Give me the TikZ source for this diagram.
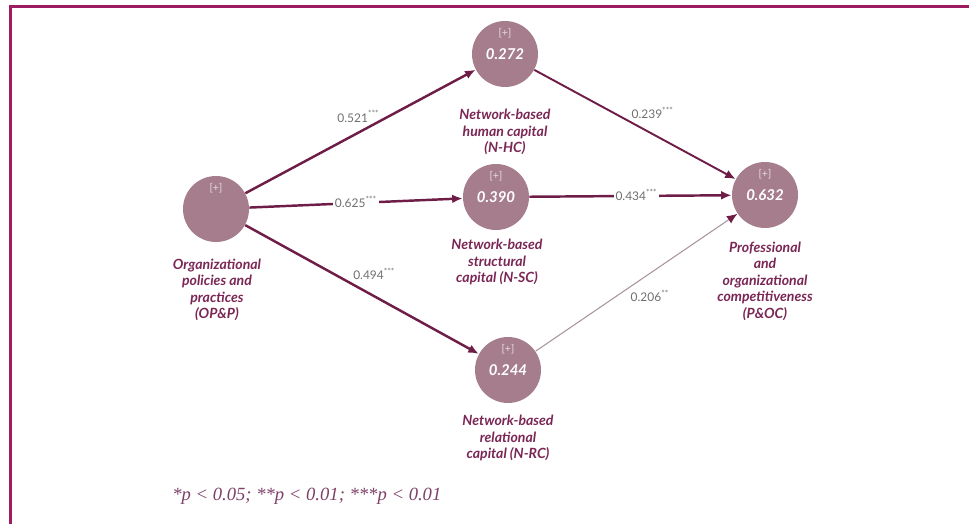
\documentclass[tikz,border=0pt]{standalone}
\usepackage{fontspec}
\setmainfont{Lato}
\newfontfamily\notefont{Liberation Serif}
\usetikzlibrary{arrows.meta}
\definecolor{framecol}{HTML}{9E1D62}
\definecolor{lvfill}{HTML}{A67D8C}
\definecolor{pathcol}{HTML}{6E1D47}
\definecolor{weakcol}{HTML}{A8939C}
\definecolor{labcol}{HTML}{7B2755}
\definecolor{coefcol}{HTML}{6F6F6F}
\definecolor{notecol}{HTML}{7D4068}
\definecolor{pluscol}{HTML}{E8DCE1}

\begin{document}
\begin{tikzpicture}[
    lv/.style={circle,fill=lvfill,minimum size=1.32cm,inner sep=0pt},
    plus/.style={text=pluscol,font=\fontsize{6}{7}\selectfont},
    val/.style={text=white,font=\fontsize{8.5}{10}\selectfont\bfseries\itshape},
    lab/.style={align=center,text=labcol,font=\fontsize{8}{9.4}\selectfont\bfseries\itshape},
    coef/.style={text=coefcol,font=\fontsize{6.8}{7.8}\selectfont,inner sep=1pt},
    arr/.style={draw=pathcol,line width=1.4pt,-{Latex[length=6pt,width=5pt,color=pathcol]}},
  ]
    \useasboundingbox (0,0) rectangle (19.38,10.48);

    % Frame
    \draw[framecol,line width=1.5pt] (0.206,0) -- (0.206,10.354) -- (19.38,10.354);

    % Organizational policies and practices
    \node[lv] (OPP) at (4.32,6.30) {};
    \node[plus] (OPPp) at (4.32,6.72) {[+]};
    \node[lab] (OPPl) at (4.34,4.68) {Organizational\\policies and\\practices\\(OP\&P)};

    % Network-based human capital
    \node[lv] (NHC) at (10.10,9.40) {};
    \node[plus] (NHCp) at (10.10,9.82) {[+]};
    \node[val] (NHCv) at (10.10,9.40) {0.272};
    \node[lab] (NHCl) at (10.10,7.84) {Network-based\\human capital\\(N-HC)};

    % Network-based structural capital
    \node[lv] (NSC) at (9.92,6.54) {};
    \node[plus] (NSCp) at (9.92,6.96) {[+]};
    \node[val] (NSCv) at (9.92,6.54) {0.390};
    \node[lab] (NSCl) at (9.94,5.24) {Network-based\\structural\\capital (N-SC)};

    % Network-based relational capital
    \node[lv] (NRC) at (10.16,3.08) {};
    \node[plus] (NRCp) at (10.16,3.50) {[+]};
    \node[val] (NRCv) at (10.16,3.08) {0.244};
    \node[lab] (NRCl) at (10.16,1.72) {Network-based\\relational\\capital (N-RC)};

    % Professional and organizational competitiveness
    \node[lv] (POC) at (15.30,6.58) {};
    \node[plus] (POCp) at (15.30,7.00) {[+]};
    \node[val] (POCv) at (15.30,6.58) {0.632};
    \node[lab] (POCl) at (15.30,4.86) {Professional\\and\\organizational\\competitiveness\\(P\&OC)};

    % Paths with coefficients
    \draw[arr] (OPP) -- node[coef,pos=0.55,anchor=south east,xshift=6pt] (c521) {0.521\textsuperscript{***}} (NHC);
    \draw[arr] (OPP) -- node[coef,pos=0.5,anchor=mid,fill=white] (c625) {0.625\textsuperscript{***}} (NSC);
    \draw[arr] (OPP) -- node[coef,pos=0.45,anchor=south west] (c494) {0.494\textsuperscript{***}} (NRC);
    \draw[arr,line width=1.1pt] (NHC) -- node[coef,pos=0.47,anchor=south west] (c239) {0.239\textsuperscript{***}} (POC);
    \draw[arr] (NSC) -- node[coef,pos=0.53,anchor=mid,fill=white] (c434) {0.434\textsuperscript{***}} (POC);
    \draw[arr,draw=weakcol,line width=0.6pt] (NRC) -- node[coef,pos=0.46,anchor=north west] (c206) {0.206\textsuperscript{**}} (POC);

    % Significance note
    \node[anchor=west,inner sep=0pt,text=notecol,font=\notefont\itshape\fontsize{10.6}{12}\selectfont] (pnote) at (3.44,0.56) {*p < 0.05; **p < 0.01; ***p < 0.01};
\end{tikzpicture}
\end{document}
